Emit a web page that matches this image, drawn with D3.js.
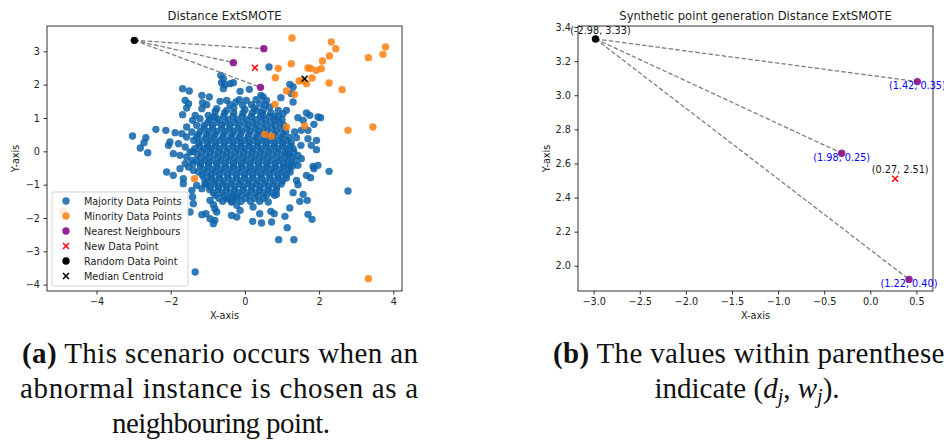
<!DOCTYPE html>
<html><head><meta charset="utf-8">
<script src="https://cdn.jsdelivr.net/npm/d3@7"></script>
<style>body{margin:0;background:#fff}svg{display:block}</style>
</head><body><svg id="fig" width="944" height="440"></svg>
<script>
// ---------- data ----------
const majorityPoints = [
 // dense core
 [-0.55,1.15],[-0.3,1.15],[-0.05,1.15],[0.2,1.15],[0.45,1.15],[0.7,1.15],
 [-0.95,0.95],[-0.7,0.95],[-0.45,0.95],[-0.2,0.95],[0.05,0.95],[0.3,0.95],[0.55,0.95],[0.8,0.95],[1.0,0.95],
 [-1.1,0.78],[-0.88,0.78],[-0.62,0.78],[-0.4,0.78],[-0.15,0.78],[0.1,0.78],[0.32,0.78],[0.58,0.78],[0.82,0.78],[1.05,0.78],
 [-1.2,0.6],[-0.98,0.6],[-0.75,0.6],[-0.52,0.6],[-0.3,0.6],[-0.08,0.6],[0.15,0.6],[0.38,0.6],[0.6,0.6],[0.85,0.6],[1.1,0.6],
 [-1.3,0.42],[-1.05,0.42],[-0.85,0.42],[-0.6,0.42],[-0.38,0.42],[-0.15,0.42],[0.08,0.42],[0.3,0.42],[0.52,0.42],[0.75,0.42],[0.98,0.42],[1.2,0.42],
 [-1.25,0.25],[-1.0,0.25],[-0.78,0.25],[-0.55,0.25],[-0.32,0.25],[-0.1,0.25],[0.12,0.25],[0.35,0.25],[0.58,0.25],[0.8,0.25],[1.02,0.25],[1.25,0.25],
 [-1.35,0.08],[-1.1,0.08],[-0.9,0.08],[-0.68,0.08],[-0.45,0.08],[-0.22,0.08],[0.0,0.08],[0.22,0.08],[0.45,0.08],[0.68,0.08],[0.9,0.08],[1.12,0.08],[1.3,0.08],
 [-1.28,-0.1],[-1.05,-0.1],[-0.82,-0.1],[-0.6,-0.1],[-0.38,-0.1],[-0.15,-0.1],[0.08,-0.1],[0.3,-0.1],[0.52,-0.1],[0.75,-0.1],[0.98,-0.1],[1.2,-0.1],
 [-1.3,-0.28],[-1.08,-0.28],[-0.88,-0.28],[-0.65,-0.28],[-0.42,-0.28],[-0.2,-0.28],[0.02,-0.28],[0.25,-0.28],[0.48,-0.28],[0.7,-0.28],[0.92,-0.28],[1.15,-0.28],[1.35,-0.28],
 [-1.2,-0.45],[-0.98,-0.45],[-0.75,-0.45],[-0.52,-0.45],[-0.3,-0.45],[-0.08,-0.45],[0.15,-0.45],[0.38,-0.45],[0.6,-0.45],[0.82,-0.45],[1.05,-0.45],[1.28,-0.45],
 [-1.25,-0.62],[-1.02,-0.62],[-0.8,-0.62],[-0.58,-0.62],[-0.35,-0.62],[-0.12,-0.62],[0.1,-0.62],[0.32,-0.62],[0.55,-0.62],[0.78,-0.62],[1.0,-0.62],[1.22,-0.62],
 [-1.1,-0.8],[-0.9,-0.8],[-0.68,-0.8],[-0.45,-0.8],[-0.22,-0.8],[0.0,-0.8],[0.22,-0.8],[0.45,-0.8],[0.68,-0.8],[0.9,-0.8],[1.12,-0.8],
 [-1.05,-0.98],[-0.82,-0.98],[-0.6,-0.98],[-0.38,-0.98],[-0.15,-0.98],[0.08,-0.98],[0.3,-0.98],[0.52,-0.98],[0.75,-0.98],[0.98,-0.98],
 [-0.95,-1.15],[-0.72,-1.15],[-0.5,-1.15],[-0.28,-1.15],[-0.05,-1.15],[0.18,-1.15],[0.4,-1.15],[0.62,-1.15],[0.85,-1.15],
 [-0.8,-1.32],[-0.55,-1.32],[-0.32,-1.32],[-0.1,-1.32],[0.12,-1.32],[0.35,-1.32],[0.58,-1.32],[0.8,-1.32],
 [-0.6,-1.5],[-0.35,-1.5],[-0.1,-1.5],[0.15,-1.5],[0.4,-1.5],
 // dense core, staggered layer
 [-0.8,1.05],[-0.57,1.05],[-0.32,1.05],[-0.08,1.05],[0.17,1.05],[0.42,1.05],[0.67,1.05],[0.9,1.05],
 [-1.0,0.87],[-0.76,0.87],[-0.52,0.87],[-0.28,0.87],[-0.03,0.87],[0.21,0.87],[0.45,0.87],[0.7,0.87],[0.93,0.87],
 [-1.1,0.69],[-0.87,0.69],[-0.63,0.69],[-0.41,0.69],[-0.19,0.69],[0.04,0.69],[0.27,0.69],[0.49,0.69],[0.72,0.69],[0.97,0.69],
 [-1.25,0.51],[-1.02,0.51],[-0.8,0.51],[-0.57,0.51],[-0.34,0.51],[-0.12,0.51],[0.11,0.51],[0.34,0.51],[0.56,0.51],[0.8,0.51],[1.03,0.51],
 [-1.38,0.33],[-1.15,0.33],[-0.92,0.33],[-0.68,0.33],[-0.45,0.33],[-0.22,0.33],[0.0,0.33],[0.23,0.33],[0.46,0.33],[0.69,0.33],[0.91,0.33],[1.13,0.33],
 [-1.22,0.16],[-1.0,0.16],[-0.79,0.16],[-0.56,0.16],[-0.33,0.16],[-0.11,0.16],[0.11,0.16],[0.33,0.16],[0.56,0.16],[0.79,0.16],[1.01,0.16],[1.22,0.16],
 [-1.4,-0.01],[-1.17,-0.01],[-0.94,-0.01],[-0.71,-0.01],[-0.49,-0.01],[-0.27,-0.01],[-0.04,-0.01],[0.19,-0.01],[0.41,-0.01],[0.63,-0.01],[0.86,-0.01],[1.09,-0.01],[1.32,-0.01],
 [-1.18,-0.19],[-0.96,-0.19],[-0.72,-0.19],[-0.5,-0.19],[-0.28,-0.19],[-0.05,-0.19],[0.18,-0.19],[0.4,-0.19],[0.62,-0.19],[0.86,-0.19],[1.08,-0.19],[1.28,-0.19],
 [-1.4,-0.37],[-1.2,-0.37],[-0.98,-0.37],[-0.76,-0.37],[-0.54,-0.37],[-0.31,-0.37],[-0.09,-0.37],[0.13,-0.37],[0.36,-0.37],[0.59,-0.37],[0.81,-0.37],[1.03,-0.37],[1.24,-0.37],
 [-1.1,-0.54],[-0.87,-0.54],[-0.64,-0.54],[-0.41,-0.54],[-0.19,-0.54],[0.04,-0.54],[0.26,-0.54],[0.49,-0.54],[0.71,-0.54],[0.93,-0.54],[1.16,-0.54],
 [-1.15,-0.71],[-0.92,-0.71],[-0.7,-0.71],[-0.47,-0.71],[-0.24,-0.71],[-0.01,-0.71],[0.21,-0.71],[0.43,-0.71],[0.66,-0.71],[0.89,-0.71],[1.1,-0.71],
 [-0.99,-0.89],[-0.79,-0.89],[-0.57,-0.89],[-0.34,-0.89],[-0.11,-0.89],[0.11,-0.89],[0.34,-0.89],[0.56,-0.89],[0.79,-0.89],[1.01,-0.89],
 [-0.93,-1.06],[-0.71,-1.06],[-0.49,-1.06],[-0.27,-1.06],[-0.04,-1.06],[0.19,-1.06],[0.41,-1.06],[0.64,-1.06],[0.86,-1.06],
 [-0.85,-1.24],[-0.62,-1.24],[-0.39,-1.24],[-0.17,-1.24],[0.06,-1.24],[0.29,-1.24],[0.51,-1.24],[0.73,-1.24],
 [-0.7,-1.41],[-0.45,-1.41],[-0.22,-1.41],[0.02,-1.41],[0.27,-1.41],[0.5,-1.41],
 // upper band
 [-0.65,2.28],[-0.58,2.18],[-0.63,2.06],[-0.54,2.00],[-0.40,2.03],[-0.31,2.06],[-0.58,1.88],[-1.68,1.88],[-1.50,1.81],
 [-1.16,1.68],[-0.96,1.63],[-0.13,1.80],[0.12,1.86],[-1.61,1.53],[-1.52,1.43],[-1.14,1.46],[-1.03,1.40],[-0.67,1.50],
 [-0.49,1.53],[-0.40,1.40],[-0.24,1.48],[-0.06,1.38],[0.04,1.53],[0.18,1.40],[-1.57,1.30],[-1.16,1.28],[-1.68,1.10],
 [-0.99,1.08],[-0.85,1.03],[-0.76,1.28],[-0.49,1.23],[-0.3,1.3],[0.0,1.25],[0.25,1.3],[0.5,1.25],[-0.15,1.55],[0.3,1.55],
 [-0.8,1.2],[0.55,1.4],[0.8,1.05],[0.43,1.68],
 // upper right
 [0.65,2.53],[1.21,2.01],[1.30,1.93],[1.25,1.73],[1.30,1.48],[0.97,1.61],[0.58,1.53],[0.49,1.63],[0.40,1.43],[0.67,1.33],
 [0.90,1.23],[1.03,1.13],[1.12,1.23],[0.49,1.08],[0.31,1.23],[1.66,1.15],[1.75,1.08],[1.97,1.03],[2.04,1.01],[1.43,1.01],
 [1.57,0.93],[1.86,0.81],[1.52,0.63],[1.70,0.63],[1.34,0.58],[1.39,0.41],[1.70,0.38],[1.93,0.33],[1.51,0.18],[1.79,0.18],
 [1.93,0.05],[1.16,-0.07],[1.43,-0.12],[1.52,-0.22],[1.21,-0.42],[1.43,-0.42],[1.84,-0.45],[1.97,-0.42],
 // lower right
 [1.86,-0.52],[2.27,-0.60],[1.66,-0.72],[1.77,-0.79],[1.39,-0.87],[1.43,-1.00],[1.30,-1.24],[1.57,-1.29],[1.48,-1.50],
 [1.68,-1.47],[0.85,-1.29],[0.63,-1.52],[1.21,-1.70],[0.70,-1.80],[0.79,-1.87],[1.08,-1.95],[0.72,-2.12],[1.70,-1.89],
 [1.81,-2.04],[1.14,-2.29],[0.91,-2.65],[1.32,-2.65],[2.78,-1.19],
 // lower left
 [-2.11,-0.62],[-1.93,-0.72],[-1.75,-0.52],[-1.66,-0.82],[-1.66,-0.97],[-1.43,-1.17],[-1.41,-1.37],[-1.30,-1.02],
 [-1.16,-1.12],[-1.08,-0.97],[-1.48,-1.82],[-1.39,-1.57],[-1.16,-1.90],[-1.05,-1.87],[-0.94,-1.47],[-0.85,-1.60],
 [-0.94,-2.02],[-0.81,-2.07],[-0.85,-2.17],[-0.81,-1.72],[-0.76,-1.82],[-0.49,-1.42],[-0.36,-1.52],[-0.22,-1.62],
 [-0.27,-1.37],[-0.36,-1.92],[-0.22,-1.97],[0.21,-2.10],[0.45,-2.15],[-1.34,-3.62],[-0.13,-1.77],[0.22,-1.67],[0.40,-1.87],
 // left
 [-3.03,0.46],[-2.67,0.41],[-2.72,0.26],[-2.82,0.10],[-2.62,-0.04],[-2.40,0.66],[-2.13,0.63],[-1.88,0.56],[-2.02,0.28],
 [-1.79,0.23],[-1.93,-0.07],[-1.75,-0.12],[-1.61,-0.37],[-2.06,0.18],[-1.70,0.53],[-1.57,0.73],[-1.43,0.58],[-1.57,0.43],
 [-1.41,0.93],[-1.30,0.78],[-1.34,1.08],[-1.21,0.98],[-1.61,0.13],[-1.48,-0.02],[-1.57,-0.17],[-1.43,-0.27],[-1.52,-0.47],
 [-1.39,-0.57]
];
const minorityPoints = [
 [1.27,3.40],[2.33,3.28],[2.45,3.08],[3.79,3.13],[3.33,2.81],[3.72,2.91],[2.28,2.86],[2.09,2.71],[1.25,2.63],[0.90,2.49],
 [1.70,2.50],[1.77,2.49],[1.92,2.43],[2.06,2.48],[0.82,2.21],[1.81,2.20],[1.46,2.11],[1.57,2.12],[1.66,2.03],[2.27,2.05],
 [1.12,1.81],[1.34,1.71],[2.62,1.85],[0.81,1.41],[1.61,0.76],[1.12,0.73],[0.54,0.51],[0.72,0.45],[2.78,0.63],[3.45,0.73],
 [-1.36,-0.82],[-4.90,-1.79],[3.33,-3.82]
];
const neighbourPoints = [[0.51,3.08],[-0.31,2.66],[0.42,1.92]];
const neighbourLabels = ["(1.42, 0.35)","(1.98, 0.25)","(1.22, 0.40)"];
const randomPoint = [-2.98,3.33];
const randomLabel = "(-2.98, 3.33)";
const newPoint = [0.27,2.51];
const newLabel = "(0.27, 2.51)";
const medianCentroid = [1.61,2.18];
const legendLabels = ["Majority Data Points","Minority Data Points","Nearest Neighbours","New Data Point","Random Data Point","Median Centroid"];
const leftXTicks = [-4,-2,0,2,4];
const leftYTicks = [-4,-3,-2,-1,0,1,2,3];
const rightXTicks = [-3.0,-2.5,-2.0,-1.5,-1.0,-0.5,0.0,0.5];
const rightYTicks = [2.0,2.2,2.4,2.6,2.8,3.0,3.2,3.4];
const titles = ["Distance ExtSMOTE","Synthetic point generation Distance ExtSMOTE"];

// ---------- drawing ----------
const FONT = "DejaVu Sans, sans-serif";
const TICK = 9.7;
const C = {blue:"#0f64a9", orange:"#ff7f0e", purple:"#800080", red:"#ff0000", black:"#000000", line:"#7f7f7f"};
const svg = d3.select("#fig");

function xMark(g, cx, cy, s, color, w){
  g.append("path").attr("d",`M${cx-s},${cy-s}L${cx+s},${cy+s}M${cx-s},${cy+s}L${cx+s},${cy-s}`)
   .attr("stroke",color).attr("stroke-width",w||1.5).attr("fill","none");
}

function frame(x, y, xt, yt, xfmt, yfmt, title){
  const [x0,x1] = x.range(), [y1,y0] = y.range();
  const gx = svg.append("g").attr("transform",`translate(0,${y1})`)
    .call(d3.axisBottom(x).tickValues(xt).tickFormat(xfmt).tickSize(3.5).tickPadding(3.5));
  const gy = svg.append("g").attr("transform",`translate(${x0},0)`)
    .call(d3.axisLeft(y).tickValues(yt).tickFormat(yfmt).tickSize(3.5).tickPadding(3.5));
  [gx,gy].forEach(g=>{
    g.select(".domain").remove();
    g.selectAll("line").attr("stroke","#000").attr("stroke-width",0.8);
    g.selectAll("text").attr("font-family",FONT).attr("font-size",TICK).attr("fill","#222");
  });
  svg.append("rect").attr("x",x0).attr("y",y0).attr("width",x1-x0).attr("height",y1-y0)
    .attr("fill","none").attr("stroke","#000").attr("stroke-width",0.8);
  const cx=(x0+x1)/2, cy=(y0+y1)/2;
  svg.append("text").attr("x",cx).attr("y",19.5).attr("text-anchor","middle")
    .attr("font-family",FONT).attr("font-size",11.6).attr("fill","#222").text(title);
  svg.append("text").attr("x",cx).attr("y",319).attr("text-anchor","middle")
    .attr("font-family",FONT).attr("font-size",TICK).attr("fill","#222").text("X-axis");
  svg.append("text").attr("transform",`translate(${x0-28},${cy}) rotate(-90)`).attr("text-anchor","middle")
    .attr("font-family",FONT).attr("font-size",TICK).attr("fill","#222").text("Y-axis");
}

// ----- left panel -----
const xL = d3.scaleLinear().domain([-5.335,4.235]).range([47,402]);
const yL = d3.scaleLinear().domain([-4.19,3.76]).range([291,26]);
svg.append("clipPath").attr("id","clipL").append("rect").attr("x",47).attr("y",26).attr("width",355).attr("height",265);
const gL = svg.append("g").attr("clip-path","url(#clipL)");
gL.selectAll("circle.maj").data(majorityPoints).join("circle").attr("class","maj")
  .attr("cx",d=>xL(d[0])).attr("cy",d=>yL(d[1])).attr("r",3.7).attr("fill",C.blue).attr("fill-opacity",0.85);
gL.selectAll("circle.min").data(minorityPoints).join("circle").attr("class","min")
  .attr("cx",d=>xL(d[0])).attr("cy",d=>yL(d[1])).attr("r",3.7).attr("fill",C.orange).attr("fill-opacity",0.85);
neighbourPoints.forEach(p=>{
  gL.append("line").attr("x1",xL(randomPoint[0])).attr("y1",yL(randomPoint[1])).attr("x2",xL(p[0])).attr("y2",yL(p[1]))
    .attr("stroke",C.line).attr("stroke-width",1.3).attr("stroke-dasharray","4.5,2.2");
});
gL.selectAll("circle.nb").data(neighbourPoints).join("circle").attr("class","nb")
  .attr("cx",d=>xL(d[0])).attr("cy",d=>yL(d[1])).attr("r",3.7).attr("fill",C.purple).attr("fill-opacity",0.85);
xMark(gL, xL(newPoint[0]), yL(newPoint[1]), 3, C.red);
gL.append("circle").attr("cx",xL(randomPoint[0])).attr("cy",yL(randomPoint[1])).attr("r",3.7).attr("fill",C.black);
xMark(gL, xL(medianCentroid[0]), yL(medianCentroid[1]), 3, C.black);
frame(xL, yL, leftXTicks, leftYTicks, d3.format("d"), d3.format("d"), titles[0]);

// legend
const lg = svg.append("g");
lg.append("rect").attr("x",52).attr("y",192).attr("width",136).attr("height",94).attr("rx",2)
  .attr("fill","#fff").attr("fill-opacity",0.8).attr("stroke","#cccccc").attr("stroke-width",0.8);
legendLabels.forEach((t,i)=>{
  const yy = 201 + i*15;
  if (i===3) xMark(lg, 66, yy, 3, C.red);
  else if (i===5) xMark(lg, 66, yy, 3, C.black);
  else lg.append("circle").attr("cx",66).attr("cy",yy).attr("r",3.7)
        .attr("fill",[C.blue,C.orange,C.purple,null,C.black][i]).attr("fill-opacity",i===4?1:0.85);
  lg.append("text").attr("x",84).attr("y",yy+3.5).attr("font-family",FONT).attr("font-size",TICK).attr("fill","#222").text(t);
});

// ----- right panel -----
const xR = d3.scaleLinear().domain([-3.17,0.68]).range([578,933]);
const yR = d3.scaleLinear().domain([1.852,3.406]).range([291,26]);
const gR = svg.append("g");
neighbourPoints.forEach(p=>{
  gR.append("line").attr("x1",xR(randomPoint[0])).attr("y1",yR(randomPoint[1])).attr("x2",xR(p[0])).attr("y2",yR(p[1]))
    .attr("stroke",C.line).attr("stroke-width",1.3).attr("stroke-dasharray","4.5,2.2");
});
gR.selectAll("circle.nb").data(neighbourPoints).join("circle").attr("class","nb")
  .attr("cx",d=>xR(d[0])).attr("cy",d=>yR(d[1])).attr("r",3.7).attr("fill",C.purple).attr("fill-opacity",0.85);
gR.append("circle").attr("cx",xR(randomPoint[0])).attr("cy",yR(randomPoint[1])).attr("r",3.7).attr("fill",C.black);
xMark(gR, xR(newPoint[0]), yR(newPoint[1]), 3, C.red);
frame(xR, yR, rightXTicks, rightYTicks, d3.format(".1f"), d3.format(".1f"), titles[1]);
neighbourPoints.forEach((p,i)=>{
  svg.append("text").attr("x",xR(p[0])).attr("y",yR(p[1])+7.5).attr("text-anchor","middle")
    .attr("font-family",FONT).attr("font-size",TICK).attr("fill","#0000ff").text(neighbourLabels[i]);
});
svg.append("text").attr("x",xR(randomPoint[0])+5).attr("y",yR(randomPoint[1])-4.5).attr("text-anchor","middle")
  .attr("font-family",FONT).attr("font-size",TICK).attr("fill","#111").text(randomLabel);
svg.append("text").attr("x",xR(newPoint[0])+5).attr("y",yR(newPoint[1])-5.5).attr("text-anchor","middle")
  .attr("font-family",FONT).attr("font-size",TICK).attr("fill","#111").text(newLabel);

// ----- captions -----
const SERIF = "Liberation Serif, DejaVu Serif, serif";
const cap = svg.append("g").attr("font-family",SERIF).attr("font-size",29).attr("fill","#111");
const a1 = cap.append("text").attr("x",220).attr("y",363).attr("text-anchor","middle").attr("textLength",396).attr("lengthAdjust","spacing");
a1.append("tspan").attr("font-weight","bold").text("(a)");
a1.append("tspan").text(" This scenario occurs when an");
cap.append("text").attr("x",219).attr("y",398).attr("text-anchor","middle").attr("textLength",398).attr("lengthAdjust","spacing").text("abnormal instance is chosen as a");
cap.append("text").attr("x",221).attr("y",433).attr("text-anchor","middle").attr("textLength",218).attr("lengthAdjust","spacing").text("neighbouring point.");
const b1 = cap.append("text").attr("x",553).attr("y",363).attr("textLength",403).attr("lengthAdjust","spacing");
b1.append("tspan").attr("font-weight","bold").text("(b)");
b1.append("tspan").text(" The values within parentheses");
const b2 = cap.append("text").attr("x",747).attr("y",398).attr("text-anchor","middle");
b2.append("tspan").text("indicate (");
b2.append("tspan").attr("font-style","italic").text("d");
b2.append("tspan").attr("font-style","italic").attr("font-size",20).attr("dy",5).text("j");
b2.append("tspan").attr("dy",-5).text(", ");
b2.append("tspan").attr("font-style","italic").text("w");
b2.append("tspan").attr("font-style","italic").attr("font-size",20).attr("dy",5).text("j");
b2.append("tspan").attr("dy",-5).text(").");
</script></body></html>
